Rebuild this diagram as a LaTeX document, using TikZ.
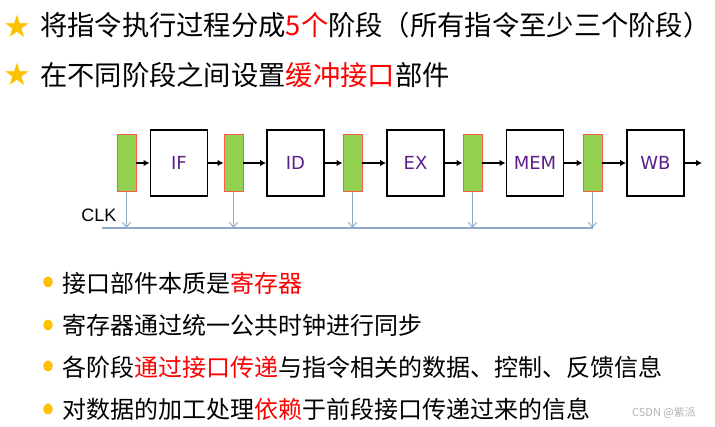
\documentclass[tikz,border=0pt]{standalone}
\usepackage{fontspec}
\setmainfont{Noto Sans CJK SC}
\newfontfamily\symfont{DejaVu Sans}
\newfontfamily\boxfont{DejaVu Sans}
\newfontfamily\clkfont{Liberation Sans}
\usepackage{tikz}
\usetikzlibrary{positioning, calc, arrows.meta}

\definecolor{regGreen}{HTML}{92D050}
\definecolor{regRed}{HTML}{FF5A4A}
\definecolor{stagePurple}{HTML}{5C1E8A}
\definecolor{clkBlue}{HTML}{8FA9C9}
\definecolor{starGold}{HTML}{FFC000}

\begin{document}
\begin{tikzpicture}[x=1pt, y=-1pt,
    reg/.style={draw=regRed, fill=regGreen, line width=0.9pt, minimum width=19pt, minimum height=57pt, inner sep=0pt},
    stage/.style={draw=black, line width=1.8pt, minimum width=57pt, minimum height=66pt, inner sep=0pt, text=stagePurple, font=\boxfont\fontsize{18}{20}\selectfont},
    flow/.style={-{Latex[length=6pt, width=6.5pt]}, line width=1.6pt},
    clkarrow/.style={-{Straight Barb[length=5pt, width=8pt]}, line width=0.9pt, draw=clkBlue},
    head/.style={anchor=west, inner sep=0pt, font=\fontsize{27.3}{30}\selectfont},
    point/.style={anchor=west, inner sep=0pt, font=\fontsize{24}{27}\selectfont}]
    \useasboundingbox (0,0) rectangle (715,427);

    % Header lines
    \node[text=starGold, font=\symfont\fontsize{31}{33}\selectfont, inner sep=0pt] (star1) at (17.5,26) {★};
    \node[text=starGold, font=\symfont\fontsize{31}{33}\selectfont, inner sep=0pt] (star2) at (17.5,74) {★};
    \node[head] (head1) at (40,25) {将指令执行过程分成\textcolor{red}{5个}阶段（所有指令至少三个阶段）};
    \node[head] (head2) at (40,75) {在不同阶段之间设置\textcolor{red}{缓冲接口}部件};

    % Interface registers
    \foreach \i/\x in {0/126.5, 1/233.5, 2/352.5, 3/472.5, 4/592.5}
        \node[reg] (r\i) at (\x,163) {};

    % Pipeline stages
    \node[stage] (IF)  at (179,163)   {IF};
    \node[stage] (ID)  at (295.5,163) {ID};
    \node[stage] (EX)  at (415.5,163) {EX};
    \node[stage] (MEM) at (535,163)   {MEM};
    \node[stage] (WB)  at (655.5,163) {WB};
    \coordinate (out) at (702,163);

    % Data flow
    \draw[flow] (r0) -- (IF);
    \draw[flow] (IF) -- (r1);
    \draw[flow] (r1) -- (ID);
    \draw[flow] (ID) -- (r2);
    \draw[flow] (r2) -- (EX);
    \draw[flow] (EX) -- (r3);
    \draw[flow] (r3) -- (MEM);
    \draw[flow] (MEM) -- (r4);
    \draw[flow] (r4) -- (WB);
    \draw[flow] (WB) -- (out);

    % Clock
    \coordinate (clk) at (102,228);
    \node[font=\clkfont\fontsize{18}{20}\selectfont, inner sep=0pt] (clklabel) at (99,215.5) {CLK};
    \draw[clkBlue, line width=1.8pt] (clk) -- (r4.south |- clk);
    \foreach \i in {0,...,4}
        \draw[clkarrow] (r\i.south) -- (r\i.south |- clk);

    % Bullet points
    \foreach \y in {282, 325, 366, 409}
        \fill[starGold] (48,\y) ellipse (4.8pt and 5.5pt);
    \node[point] (p1) at (62,283) {接口部件本质是\textcolor{red}{寄存器}};
    \node[point] (p2) at (62,325) {寄存器通过统一公共时钟进行同步};
    \node[point] (p3) at (62,367) {各阶段\textcolor{red}{通过接口传递}与指令相关的数据、控制、反馈信息};
    \node[point] (p4) at (62,409) {对数据的加工处理\textcolor{red}{依赖}于前段接口传递过来的信息};

    % Watermark
    \node[text=black!30, font=\fontsize{11}{12}\selectfont, inner sep=0pt] (mark) at (664,413) {CSDN @紫派};
\end{tikzpicture}
\end{document}
